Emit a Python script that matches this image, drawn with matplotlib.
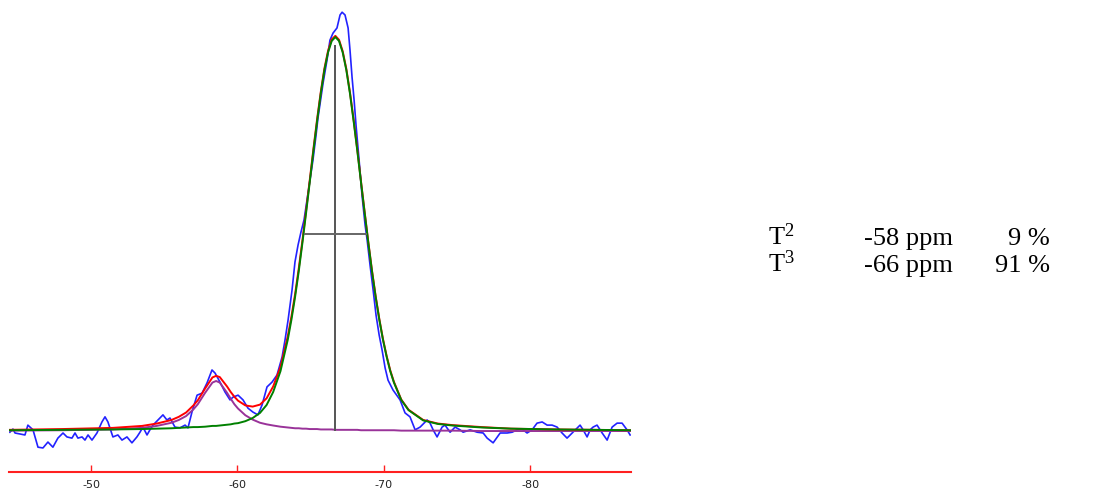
import matplotlib.pyplot as plt

plt.rcParams['mathtext.default'] = 'regular'

# x axis ticks (ppm)
tick_ppm = [-50, -60, -70, -80]
tick_labels = ['-50', '-60', '-70', '-80']

blue_ppm = [-44.46, -44.67, -44.81, -45.49, -45.69, -46.04, -46.38, -46.72, -47.06, -47.40,
            -47.74, -48.09, -48.36, -48.70, -48.91, -49.11, -49.39, -49.59, -49.80, -50.07,
            -50.41, -50.75, -50.96, -51.16, -51.50, -51.84, -52.12, -52.46, -52.80, -53.14,
            -53.35, -53.55, -53.83, -54.03, -54.24, -54.58, -54.92, -55.19, -55.40, -55.74,
            -56.08, -56.43, -56.63, -56.90, -57.25, -57.59, -57.93, -58.27, -58.48, -58.82,
            -59.16, -59.50, -59.71, -60.05, -60.39, -60.73, -61.07, -61.41, -61.69, -62.03,
            -62.37, -62.71, -63.06, -63.26, -63.47, -63.74, -63.94, -64.15, -64.35, -64.56,
            -64.76, -64.97, -65.17, -65.38, -65.51, -65.86, -66.13, -66.33, -66.54, -66.81,
            -67.02, -67.16, -67.36, -67.57, -67.70, -67.84, -67.98, -68.11, -68.32, -68.52,
            -68.73, -68.87, -69.07, -69.28, -69.48, -69.69, -69.89, -70.10, -70.30, -70.64,
            -71.12, -71.46, -71.80, -72.15, -72.49, -72.97, -73.17, -73.38, -73.65, -73.99,
            -74.19, -74.54, -74.88, -75.22, -75.43, -75.91, -76.39, -76.80, -77.07, -77.48,
            -77.96, -78.44, -78.78, -79.12, -79.46, -79.80, -80.14, -80.48, -80.83, -81.17,
            -81.51, -81.85, -82.19, -82.53, -82.88, -83.22, -83.42, -83.63, -83.90, -84.11,
            -84.31, -84.58, -84.93, -85.27, -85.61, -85.95, -86.29, -86.63, -86.84]
blue_int = [-0.003, 0.005, -0.005, -0.010, 0.015, 0.003, -0.041, -0.043, -0.028, -0.041,
            -0.018, -0.005, -0.015, -0.018, -0.005, -0.018, -0.015, -0.023, -0.010, -0.023,
            -0.005, 0.023, 0.036, 0.023, -0.015, -0.010, -0.023, -0.015, -0.030, -0.015,
            -0.003, 0.010, -0.010, 0.003, 0.015, 0.028, 0.041, 0.028, 0.033, 0.010,
            0.008, 0.015, 0.008, 0.048, 0.091, 0.096, 0.122, 0.155, 0.147, 0.124,
            0.099, 0.079, 0.086, 0.091, 0.079, 0.058, 0.048, 0.041, 0.066, 0.112,
            0.124, 0.142, 0.188, 0.231, 0.282, 0.358, 0.429, 0.472, 0.505, 0.536,
            0.586, 0.637, 0.688, 0.751, 0.794, 0.883, 0.942, 0.992, 1.010, 1.023,
            1.056, 1.063, 1.056, 1.023, 0.967, 0.898, 0.840, 0.777, 0.688, 0.599,
            0.523, 0.485, 0.421, 0.358, 0.294, 0.244, 0.206, 0.160, 0.129, 0.104,
            0.079, 0.046, 0.036, 0.003, 0.010, 0.028, 0.020, 0.003, -0.015, 0.010,
            0.015, -0.003, 0.010, 0.003, -0.003, 0.003, -0.003, -0.005, -0.018, -0.030,
            -0.005, -0.005, -0.003, 0.003, 0.005, -0.005, 0.003, 0.020, 0.023, 0.015,
            0.015, 0.010, -0.005, -0.018, -0.005, 0.008, 0.015, 0.003, -0.015, 0.003,
            0.010, 0.015, -0.005, -0.023, 0.010, 0.020, 0.020, 0.003, -0.010]

# deconvolution: T3 component (green), T2 component (purple), sum (red)
fit_ppm = [-44.4, -48.0, -51.5, -53.5, -54.5, -55.5, -56.0, -56.5, -57.0, -57.3,
           -57.8, -58.3, -58.55, -58.8, -59.3, -59.55, -59.8, -60.05, -60.55, -61.05,
           -61.55, -62.0, -62.45, -62.95, -63.45, -63.7, -63.95, -64.2, -64.45, -64.7,
           -64.95, -65.2, -65.45, -65.7, -65.95, -66.2, -66.45, -66.7, -66.95, -67.2,
           -67.45, -67.7, -67.95, -68.2, -68.45, -68.7, -68.95, -69.2, -69.45, -69.7,
           -69.95, -70.2, -70.45, -70.7, -71.2, -71.7, -72.7, -73.7, -74.7, -76.7,
           -78.7, -81.7, -86.9]
t3_fit = [0.002, 0.003, 0.004, 0.005, 0.006, 0.007, 0.008, 0.009, 0.010, 0.010,
          0.011, 0.013, 0.013, 0.014, 0.016, 0.017, 0.019, 0.020, 0.025, 0.033,
          0.046, 0.066, 0.099, 0.152, 0.232, 0.283, 0.341, 0.406, 0.478, 0.554,
          0.632, 0.711, 0.786, 0.856, 0.916, 0.961, 0.990, 1.000, 0.990, 0.961,
          0.916, 0.856, 0.786, 0.711, 0.632, 0.554, 0.478, 0.406, 0.341, 0.283,
          0.232, 0.189, 0.152, 0.123, 0.079, 0.053, 0.027, 0.018, 0.014, 0.009,
          0.006, 0.004, 0.002]
t2_fit = [0.001, 0.002, 0.004, 0.008, 0.013, 0.021, 0.028, 0.038, 0.055, 0.068,
          0.097, 0.123, 0.127, 0.123, 0.097, 0.082, 0.068, 0.057, 0.040, 0.029,
          0.021, 0.017, 0.014, 0.011, 0.009, 0.008, 0.007, 0.007, 0.006, 0.006,
          0.005, 0.005, 0.005, 0.004, 0.004, 0.004, 0.004, 0.003, 0.003, 0.003,
          0.003, 0.003, 0.003, 0.003, 0.002, 0.002, 0.002, 0.002, 0.002, 0.002,
          0.002, 0.002, 0.002, 0.002, 0.001, 0.001, 0.001, 0.001, 0.001, 0.000,
          0.000, 0.000, 0.000]
sum_fit = [0.003, 0.005, 0.008, 0.013, 0.019, 0.028, 0.036, 0.047, 0.065, 0.078,
           0.108, 0.136, 0.140, 0.137, 0.113, 0.099, 0.087, 0.077, 0.065, 0.062,
           0.067, 0.083, 0.113, 0.163, 0.241, 0.291, 0.348, 0.413, 0.484, 0.560,
           0.637, 0.716, 0.791, 0.860, 0.920, 0.965, 0.994, 1.003, 0.993, 0.964,
           0.919, 0.859, 0.789, 0.714, 0.634, 0.556, 0.480, 0.408, 0.343, 0.285,
           0.234, 0.191, 0.154, 0.125, 0.080, 0.054, 0.028, 0.019, 0.015, 0.010,
           0.006, 0.004, 0.002]

# peak marker of the main line: centre and width at half height
peak_ppm = -66.7
peak_top = 0.98
half_left, half_right = -64.53, -68.87
half_height = 0.5

species = ['T$^2$', 'T$^3$']
shifts = ['-58 ppm', '-66 ppm']
percents = ['9 %', '91 %']

W, H = 1110, 492
fig = plt.figure(figsize=(W / 100, H / 100), dpi=100)
ax = fig.add_axes([9 / W, 20 / H, 622 / W, 472 / H])

ax.plot(blue_ppm, blue_int, color='#2222ff', lw=1.2)
ax.plot(fit_ppm, t2_fit, color='#993399', lw=1.4)
ax.plot(fit_ppm, sum_fit, color='#ff0000', lw=1.4)
ax.plot(fit_ppm, t3_fit, color='#008000', lw=1.4)
ax.vlines(peak_ppm, 0, peak_top, color='#555555', lw=1.4)
ax.hlines(half_height, half_left, half_right, color='#666666', lw=1.4)

ax.set_xlim(-44.4, -86.9)
ax.set_ylim(-0.104, 1.094)
for s in ['top', 'left', 'right']:
    ax.spines[s].set_visible(False)
ax.spines['bottom'].set_color('#ff2020')
ax.spines['bottom'].set_linewidth(1.5)
ax.set_xticks(tick_ppm, tick_labels)
ax.set_yticks([])
ax.tick_params(axis='x', direction='in', length=5, width=1, color='#ff2020',
               pad=5.5, labelsize=8, labelcolor='#222222')
ax.patch.set_visible(False)

# legend table on the right
rows_y = [245, 272]
for i in range(2):
    yb = 1 - rows_y[i] / H
    fig.text(768 / W, yb, species[i], family='Liberation Serif', fontsize=19, va='baseline')
    fig.text(864 / W, yb, shifts[i], family='Liberation Serif', fontsize=19, va='baseline')
    fig.text(1050 / W, yb, percents[i], family='Liberation Serif', fontsize=19,
             va='baseline', ha='right')

fig.savefig('out.png', dpi=100)
